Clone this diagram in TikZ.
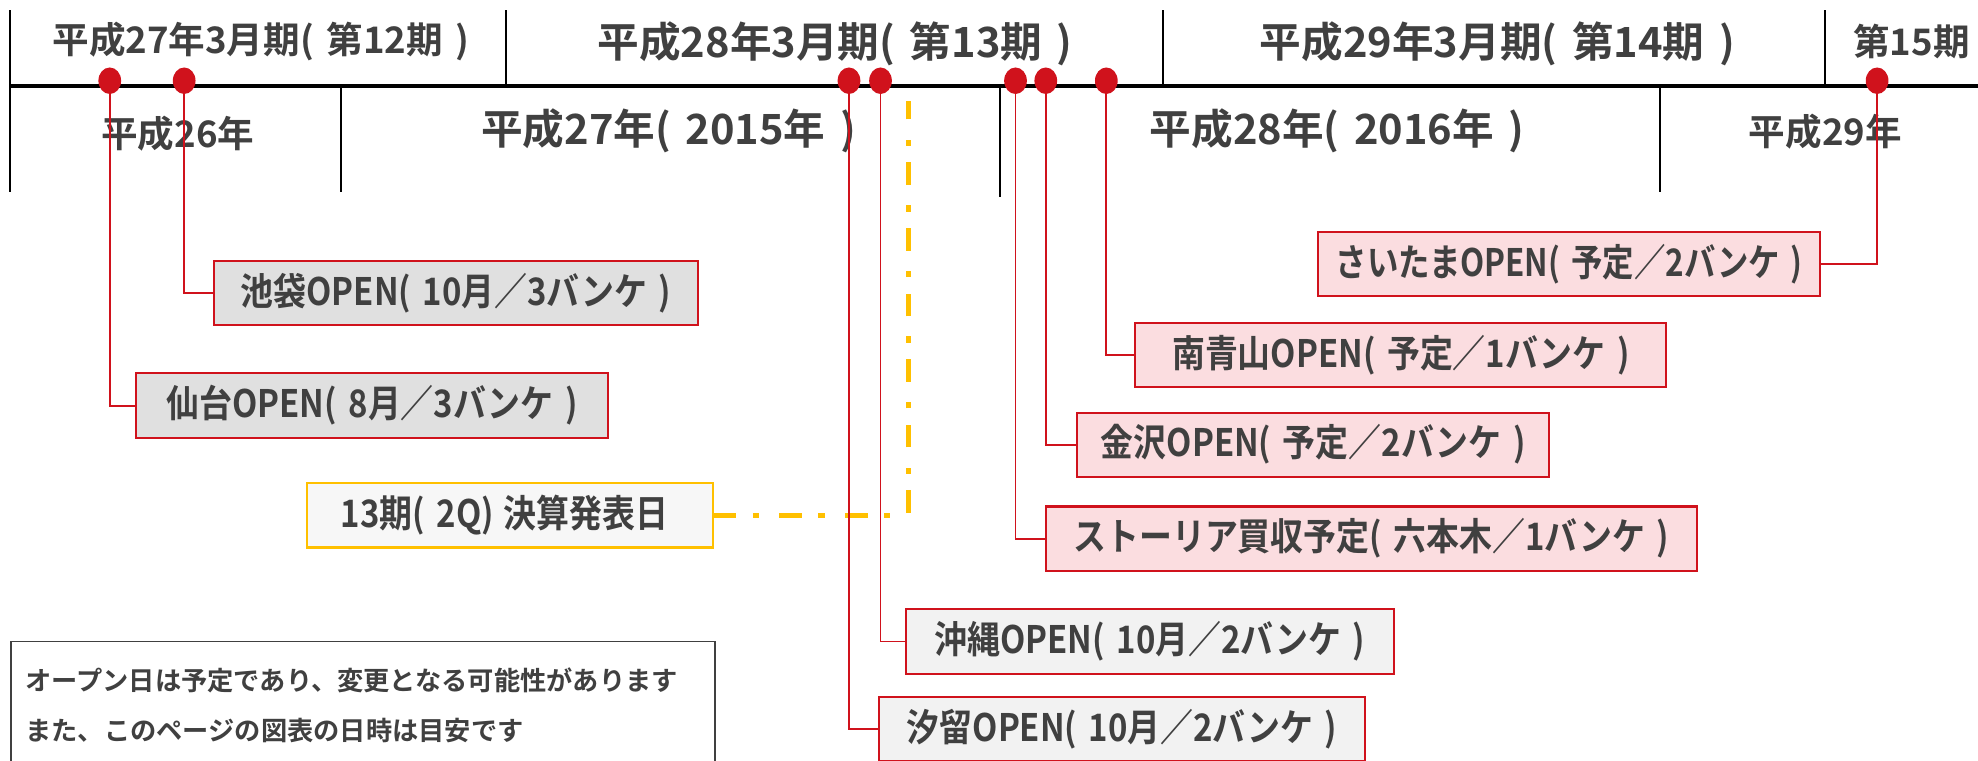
\documentclass[tikz,border=0pt]{standalone}
\usepackage{fontspec}
\usepackage{graphicx}
\usetikzlibrary{shapes.geometric}
\setmainfont{Noto Sans CJK JP}[BoldFont={Noto Sans CJK JP Bold}]
\definecolor{txt}{RGB}{64,64,64}
\definecolor{rd}{RGB}{208,18,28}
\definecolor{pinkfill}{RGB}{251,221,224}
\definecolor{grayfill}{RGB}{224,224,224}
\definecolor{lightfill}{RGB}{242,242,242}
\definecolor{paperfill}{RGB}{247,247,247}
\definecolor{yel}{RGB}{255,192,0}
\newcommand\LP{(\hspace{.35em}}
\newcommand\RP{\hspace{.35em})}
\newcommand\bxt[1]{\scalebox{0.87}[1]{#1}}
\begin{document}
\begin{tikzpicture}[x=1pt,y=-1pt,
  bigtl/.style={font=\bfseries\fontsize{33}{33}\selectfont, text=txt, inner sep=0},
  smalltl/.style={font=\bfseries\fontsize{29}{29}\selectfont, text=txt, inner sep=0},
  sep/.style={black, line width=1.5pt},
  evbox/.style={draw=rd, line width=1.6pt, minimum height=51pt, inner sep=0,
    font=\bfseries\fontsize{30}{30}\selectfont, text=txt},
  pinkbox/.style={evbox, fill=pinkfill},
  graybox/.style={evbox, fill=grayfill},
  lightbox/.style={evbox, fill=lightfill},
  conn/.style={rd, line width=1.5pt},
  evdot/.style={ellipse, fill=rd, minimum width=18pt, minimum height=21pt, inner sep=0},
  notetext/.style={anchor=west, inner sep=0, font=\bfseries\fontsize{20.8}{20.8}\selectfont, text=txt},
  yelline/.style={yel, line width=4pt, dash pattern=on 18pt off 13pt on 5pt off 16pt}
]
\clip (0,0) rectangle (1568,603);
\fill[white] (0,0) rectangle (1568,603);

% header separators
\draw[sep] (8,8) -- (8,152);
\draw[sep] (401,8) -- (401,68);
\draw[sep] (922,8) -- (922,68);
\draw[sep] (1447,8) -- (1447,68);
\draw[sep] (270,68) -- (270,152);
\draw[sep] (793,68) -- (793,156);
\draw[sep] (1316,68) -- (1316,152);
\draw[black, line width=3pt] (8,68) -- (1568,68);

% header labels
\node[smalltl] (fy12) at (207,33) {平成27年3月期\LP 第12期\RP};
\node[bigtl] (fy13) at (662,35) {平成28年3月期\LP 第13期\RP};
\node[bigtl] (fy14) at (1187,35) {平成29年3月期\LP 第14期\RP};
\node[smalltl, anchor=west] (fy15) at (1469,33) {第15期};
\node[smalltl] (y26) at (141,106) {平成26年};
\node[bigtl] (y27) at (530,104) {平成27年\LP 2015年\RP};
\node[bigtl] (y28) at (1060,104) {平成28年\LP 2016年\RP};
\node[smalltl] (y29) at (1447,104) {平成29年};

% event boxes
\node[graybox, minimum width=383pt] (ikebukuro) at (361.5,232.5) {\bxt{池袋OPEN\LP 10月／3バンケ\RP}};
\node[graybox, minimum width=374pt] (sendai) at (295,321.5) {\bxt{仙台OPEN\LP 8月／3バンケ\RP}};
\node[evbox, draw=yel, fill=paperfill, minimum width=322pt] (kessan) at (404,408.5) {\hspace{-8pt}\bxt{13期\LP 2Q)\hspace{.3em}決算発表日}};
\node[lightbox, minimum width=387pt] (okinawa) at (911.5,508.5) {\bxt{沖縄OPEN\LP 10月／2バンケ\RP}};
\node[lightbox, minimum width=385pt] (shiodome) at (889.5,578) {\bxt{汐留OPEN\LP 10月／2バンケ\RP}};
\node[pinkbox, minimum width=516pt] (storia) at (1087,427) {\bxt{ストーリア買収予定\LP 六本木／1バンケ\RP}};
\node[pinkbox, minimum width=374pt] (kanazawa) at (1041,352.5) {\bxt{金沢OPEN\LP 予定／2バンケ\RP}};
\node[pinkbox, minimum width=421pt] (minamiaoyama) at (1110.5,281.5) {\bxt{南青山OPEN\LP 予定／1バンケ\RP}};
\node[pinkbox, minimum width=398pt] (saitama) at (1244,209.5) {\scalebox{0.83}[1]{さいたまOPEN\LP 予定／2バンケ\RP}};

% note box
\node[draw=black!75, line width=1.2pt, fill=white, minimum width=558pt, minimum height=130pt,
  anchor=north west, inner sep=0] (note) at (8,508) {};
\node[notetext] (note1) at (20,539) {オープン日は予定であり、変更となる可能性があります};
\node[notetext] (note2) at (20,579) {また、このページの図表の日時は目安です};

% dot positions
\coordinate (p1) at (87,64);
\coordinate (p2) at (146,64);
\coordinate (p3) at (673,64);
\coordinate (p4) at (698,64);
\coordinate (p5) at (805,64);
\coordinate (p6) at (829,64);
\coordinate (p7) at (877,64);
\coordinate (p8) at (1488,64);
\coordinate (q) at (720,80);

% connectors
\draw[yelline] (kessan.east) -| (q);
\draw[conn] (p1) |- (sendai.west);
\draw[conn] (p2) |- (ikebukuro.west);
\draw[conn] (p3) |- (shiodome.west);
\draw[conn] (p4) |- (okinawa.west);
\draw[conn] (p5) |- (storia.west);
\draw[conn] (p6) |- (kanazawa.west);
\draw[conn] (p7) |- (minamiaoyama.west);
\draw[conn] (p8) |- (saitama.east);

% dots
\foreach \i in {1,...,8} { \node[evdot] (dot\i) at (p\i) {}; }
\end{tikzpicture}
\end{document}
